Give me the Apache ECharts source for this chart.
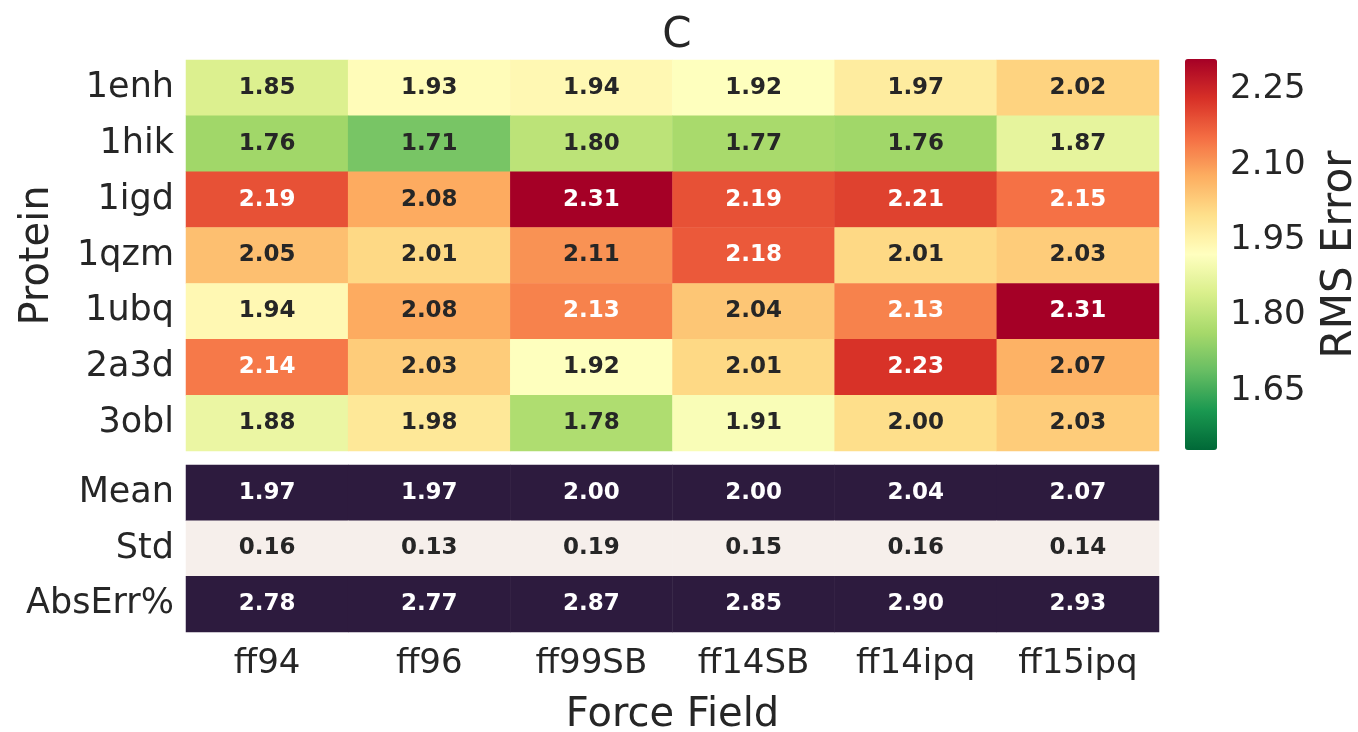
<!DOCTYPE html>
<html>
<head>
<meta charset="utf-8">
<script src="https://cdn.jsdelivr.net/npm/echarts@6/dist/echarts.min.js"></script>
<style>
html, body { margin: 0; padding: 0; background: #fff; }
#chart { width: 1358px; height: 732px; }
</style>
</head>
<body>
<div id="chart"></div>
<script>
// categories
var forceFields = ['ff94', 'ff96', 'ff99SB', 'ff14SB', 'ff14ipq', 'ff15ipq'];
var proteins = ['1enh', '1hik', '1igd', '1qzm', '1ubq', '2a3d', '3obl'];
var statNames = ['Mean', 'Std', 'AbsErr%'];

// RMS error per protein (rows) and force field (columns)
var rms1enh = [1.85, 1.93, 1.94, 1.92, 1.97, 2.02];
var rms1hik = [1.76, 1.71, 1.80, 1.77, 1.76, 1.87];
var rms1igd = [2.19, 2.08, 2.31, 2.19, 2.21, 2.15];
var rms1qzm = [2.05, 2.01, 2.11, 2.18, 2.01, 2.03];
var rms1ubq = [1.94, 2.08, 2.13, 2.04, 2.13, 2.31];
var rms2a3d = [2.14, 2.03, 1.92, 2.01, 2.23, 2.07];
var rms3obl = [1.88, 1.98, 1.78, 1.91, 2.00, 2.03];

// summary rows
var meanVals = [1.97, 1.97, 2.00, 2.00, 2.04, 2.07];
var stdVals = [0.16, 0.13, 0.19, 0.15, 0.16, 0.14];
var absErrVals = [2.78, 2.77, 2.87, 2.85, 2.90, 2.93];

// colour bar range and ticks
var cbMin = 1.533, cbMax = 2.31;
var cbTicks = [1.65, 1.80, 1.95, 2.10, 2.25];

var rmsRows = [rms1enh, rms1hik, rms1igd, rms1qzm, rms1ubq, rms2a3d, rms3obl];
var statRows = [meanVals, stdVals, absErrVals];

var txtDark = '#262626';
var fontFam = 'DejaVu Sans';

var mainData = [];
rmsRows.forEach(function (row, r) {
	row.forEach(function (v, c) {
		mainData.push({
			value: [c, r, v],
			label: { color: v > 2.12 ? '#ffffff' : txtDark }	// light text on dark cells
		});
	});
});

var statData = [];
statRows.forEach(function (row, r) {
	row.forEach(function (v, c) {
		statData.push({
			value: [c, r, v],
			label: { color: v < 1 ? txtDark : '#ffffff' }
		});
	});
});

var chart = echarts.init(document.getElementById('chart'));

var cellLabel = {
	show: true,
	fontFamily: fontFam,
	fontWeight: 'bold',
	fontSize: 23,
	formatter: function (p) { return p.value[2].toFixed(2); }
};

chart.setOption({
	animation: false,
	title: {
		text: 'C',
		left: 672, top: 10,
		textAlign: 'center',
		textStyle: { fontFamily: fontFam, fontWeight: 'normal', fontSize: 42, color: txtDark }
	},
	grid: [
		{ left: 186, top: 60, width: 973, height: 391, outerBoundsMode: 'none' },
		{ left: 186, top: 465, width: 973, height: 167, outerBoundsMode: 'none' },
		{ left: 1185, top: 59, width: 32, height: 391, outerBoundsMode: 'none' }
	],
	xAxis: [
		{
			type: 'category', gridIndex: 0, data: forceFields,
			axisLine: { show: false }, axisTick: { show: false }, axisLabel: { show: false }
		},
		{
			type: 'category', gridIndex: 1, data: forceFields,
			axisLine: { show: false }, axisTick: { show: false },
			axisLabel: { fontFamily: fontFam, fontSize: 34, color: txtDark, margin: 15 },
			name: 'Force Field', nameLocation: 'middle', nameGap: 64,
			nameTextStyle: { fontFamily: fontFam, fontSize: 40, color: txtDark }
		},
		{ type: 'value', gridIndex: 2, show: false, min: 0, max: 1 }
	],
	yAxis: [
		{
			type: 'category', gridIndex: 0, data: proteins, inverse: true,
			axisLine: { show: false }, axisTick: { show: false },
			axisLabel: { fontFamily: fontFam, fontSize: 35, color: txtDark, margin: 12 },
			name: 'Protein', nameLocation: 'middle', nameRotate: 90, nameGap: 128,
			nameTextStyle: { fontFamily: fontFam, fontSize: 40, color: txtDark }
		},
		{
			type: 'category', gridIndex: 1, data: statNames, inverse: true,
			axisLine: { show: false }, axisTick: { show: false },
			axisLabel: { fontFamily: fontFam, fontSize: 35, color: txtDark, margin: 12 }
		},
		{
			type: 'value', gridIndex: 2, position: 'right', min: cbMin, max: cbMax,
			axisLine: { show: false }, axisTick: { show: false }, splitLine: { show: false },
			axisLabel: {
				customValues: cbTicks,
				fontFamily: fontFam, fontSize: 34, color: txtDark, margin: 13,
				formatter: function (v) { return v.toFixed(2); }
			},
			name: 'RMS Error', nameLocation: 'middle', nameRotate: 90, nameGap: 102,
			nameTextStyle: { fontFamily: fontFam, fontSize: 42, color: txtDark }
		}
	],
	visualMap: [
		{
			type: 'continuous', seriesIndex: 0, dimension: 2,
			min: cbMin, max: cbMax, calculable: false, hoverLink: false,
			left: 1185, top: 59, itemWidth: 32, itemHeight: 391, padding: 0,
			inRange: {
				color: ['#006837', '#1a9850', '#66bd63', '#a6d96a', '#d9ef8b', '#ffffbf',
					'#fee08b', '#fdae61', '#f46d43', '#d73027', '#a50026']
			}
		},
		{
			type: 'piecewise', seriesIndex: 1, dimension: 2, show: false,
			pieces: [
				{ lt: 1, color: '#f6efeb' },
				{ gte: 1, color: '#2d1b3e' }
			]
		}
	],
	series: [
		{
			type: 'heatmap', xAxisIndex: 0, yAxisIndex: 0,
			data: mainData, label: cellLabel,
			emphasis: { disabled: true }
		},
		{
			type: 'heatmap', xAxisIndex: 1, yAxisIndex: 1,
			data: statData, label: cellLabel,
			emphasis: { disabled: true }
		}
	]
});
</script>
</body>
</html>
